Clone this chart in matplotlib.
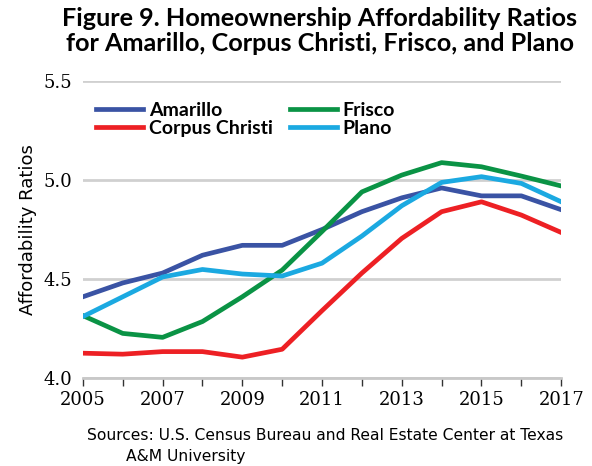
import matplotlib

matplotlib.use("Agg")

import matplotlib.pyplot as plt

years = list(range(2005, 2018))
amarillo = [4.41, 4.48, 4.53, 4.62, 4.67, 4.67, 4.75, 4.84, 4.91, 4.96, 4.92, 4.92, 4.85]
corpus_christi = [4.125, 4.12, 4.133, 4.133, 4.105, 4.145, 4.34, 4.53, 4.705, 4.84, 4.89, 4.823, 4.735]
frisco = [4.315, 4.225, 4.205, 4.285, 4.41, 4.545, 4.74, 4.94, 5.025, 5.088, 5.067, 5.02, 4.97]
plano = [4.31, 4.41, 4.51, 4.548, 4.525, 4.515, 4.58, 4.717, 4.87, 4.988, 5.017, 4.983, 4.89]
x_ticks = [2005, 2007, 2009, 2011, 2013, 2015, 2017]
y_ticks = [4.0, 4.5, 5.0, 5.5]

fig = plt.figure(figsize=(5.92, 4.66), dpi=100)
ax = fig.add_axes([0.140, 0.189, 0.808, 0.637])

ax.plot(years, amarillo, color="#3a53a4", linewidth=3.4, label="Amarillo")
ax.plot(years, corpus_christi, color="#ed2024", linewidth=3.4, label="Corpus Christi")
ax.plot(years, frisco, color="#0a9345", linewidth=3.4, label="Frisco")
ax.plot(years, plano, color="#1ba9e1", linewidth=3.4, label="Plano")

ax.set_xlim(2005, 2017)
ax.set_ylim(4.0, 5.5)
ax.set_yticks(y_ticks)
ax.set_yticklabels([f"{v:.1f}" for v in y_ticks], family="DejaVu Serif", fontsize=13)
ax.set_xticks(x_ticks)
ax.set_xticklabels([str(v) for v in x_ticks], family="DejaVu Serif", fontsize=13)
ax.set_xticks(years, minor=True)
ax.tick_params(axis="x", which="both", direction="out", length=6, color="#333333", width=1)
ax.tick_params(axis="y", length=0, pad=8)
ax.grid(axis="y", color="#d0d0d0", linewidth=2)
ax.set_axisbelow(True)
for side in ["left", "right", "top"]:
    ax.spines[side].set_visible(False)
ax.spines["bottom"].set_color("#c8c8c8")
ax.spines["bottom"].set_linewidth(2)

ax.set_ylabel("Affordability Ratios", fontsize=13, family="DejaVu Sans")

ax.legend(loc="upper left", bbox_to_anchor=(0.0, 0.975), ncol=2, frameon=False,
          prop={"weight": "bold", "size": 14, "family": "Lato"},
          handlelength=2.4, handletextpad=0.3, columnspacing=0.9,
          labelspacing=0.05, borderaxespad=0.3)

fig.text(0.54, 0.985, "Figure 9. Homeownership Affordability Ratios\nfor Amarillo, Corpus Christi, Frisco, and Plano",
         ha="center", va="top", fontsize=18.2, fontweight="bold",
         family=["Lato", "DejaVu Sans"], linespacing=1.1)

fig.text(0.147, 0.043, "Sources: U.S. Census Bureau and Real Estate Center at Texas\n        A&M University",
         ha="left", va="center", fontsize=11.2, family="DejaVu Sans", linespacing=1.45)

plt.savefig("out.png", dpi=100)
plt.close()
